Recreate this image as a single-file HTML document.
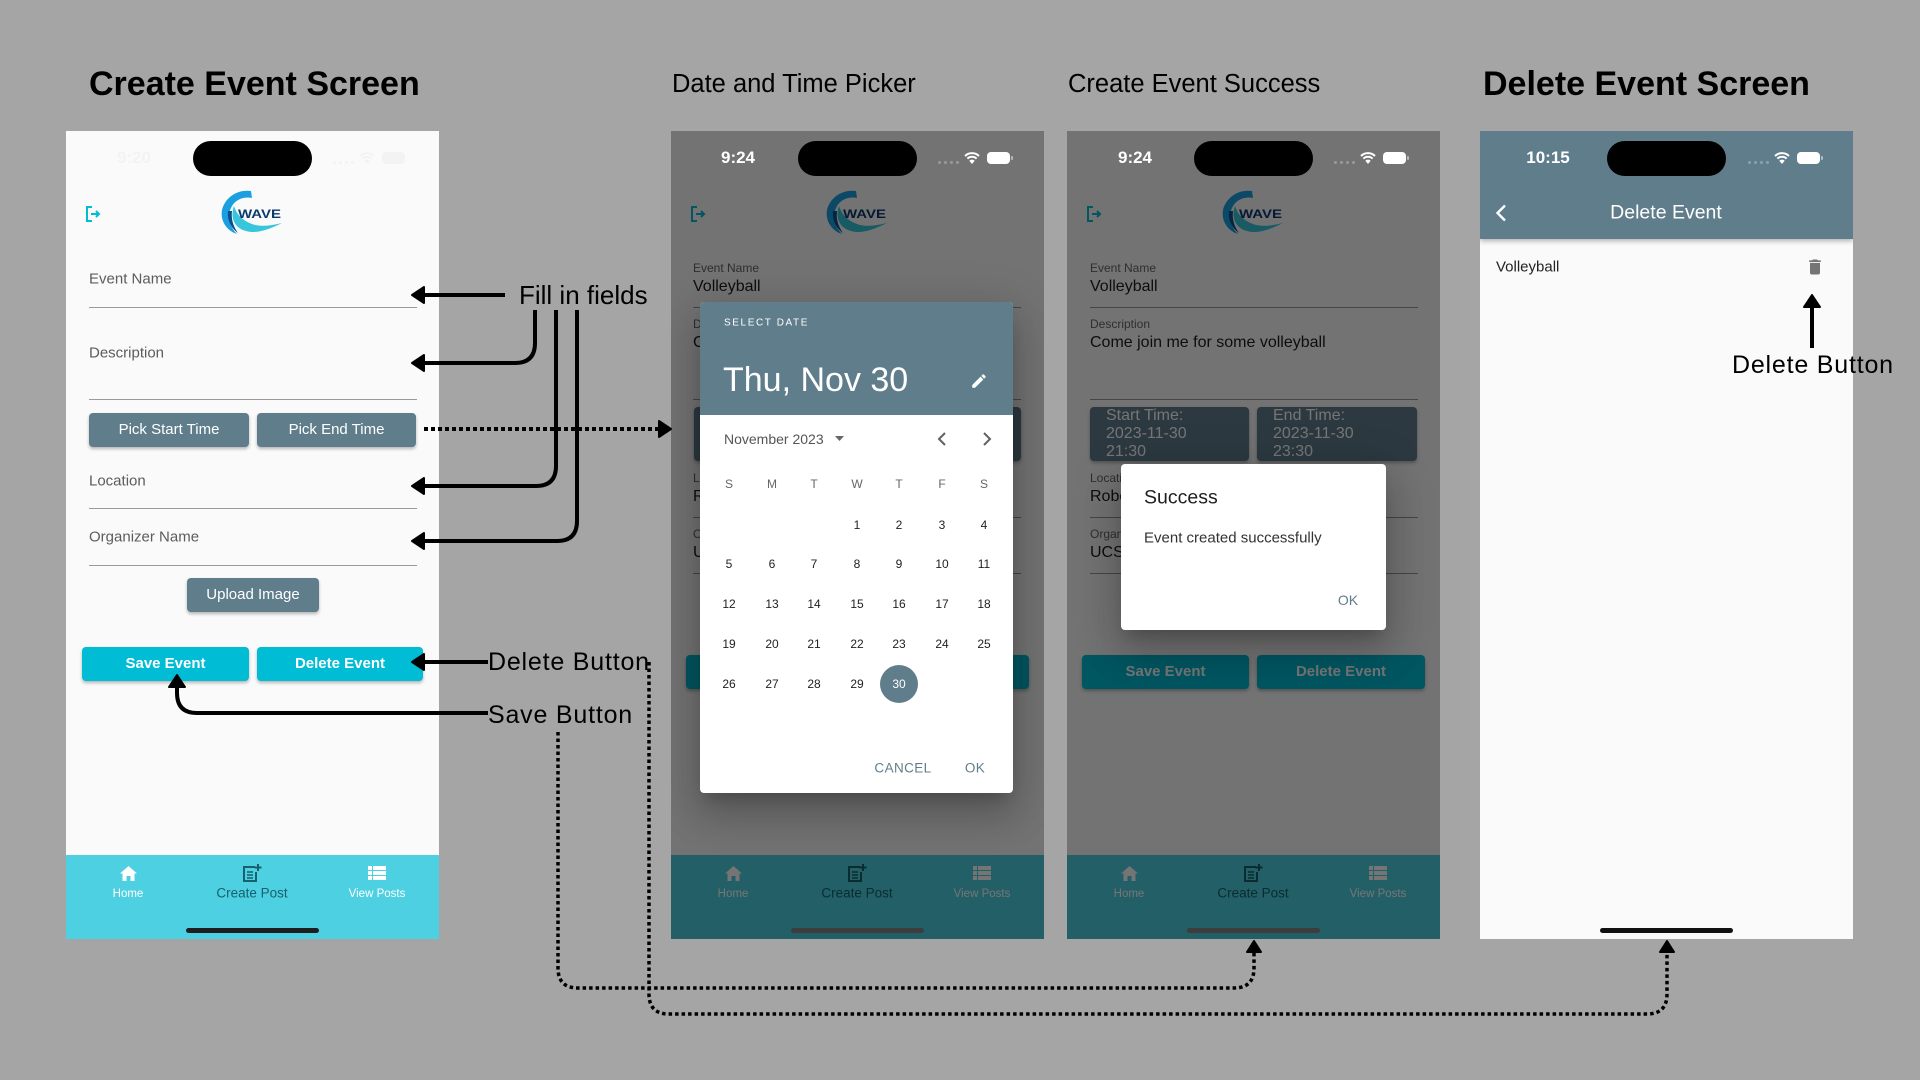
<!DOCTYPE html>
<html><head><meta charset="utf-8">
<style>
*{box-sizing:border-box}
body{margin:0;width:1920px;height:1080px;background:#a5a5a5;position:relative;overflow:hidden;font-family:"Liberation Sans",Arial,sans-serif}
.ph{position:absolute;top:131px;width:373px;height:808px;background:#fafafa;overflow:hidden}
.ab{position:absolute;white-space:nowrap}
.cy{transform:translateY(-50%)}
.cc{transform:translate(-50%,-50%)}
.isl{position:absolute;left:127px;top:10px;width:119px;height:35px;border-radius:18px;background:#000}
.ul{position:absolute;left:23px;width:328px;height:1px;background:#9a9a9a}
.lb{font-size:15px;color:#5c5c5c;left:23px}
.btn{position:absolute;height:34px;line-height:34px;text-align:center;color:#fff;font-size:15px;border-radius:4px;box-shadow:0 2px 3px rgba(0,0,0,.28);white-space:nowrap}
.g{background:#607d8b}
.cb{background:#00bcd4;font-weight:bold}
.nav{position:absolute;left:0;top:724px;width:373px;height:84px;background:#4dd0e1}
.nl{font-size:11.5px;color:#fff}
.ind{position:absolute;left:120px;top:797px;width:133px;height:5px;border-radius:3px;background:#1e1e1e}
.sl{font-size:12px;color:#666;left:22px}
.vl{font-size:16px;color:#1e1e1e;left:22px}
.tb{position:absolute;top:276px;height:54px;background:#607d8b;border-radius:4px;color:#fff;font-size:16px;line-height:18px;padding-left:16px;overflow:hidden;box-shadow:0 2px 3px rgba(0,0,0,.28);white-space:nowrap}
.ov{position:absolute;left:0;top:0;width:373px;height:808px;background:rgba(0,0,0,.54)}
.st{font-size:17px;font-weight:bold;color:#fff}
.d{position:absolute;width:36px;height:20px;margin-left:-18px;margin-top:-10px;line-height:20px;text-align:center;font-size:12px;color:#222}
.wd{color:#666}
.dot{position:absolute;top:30px;width:3px;height:3px;border-radius:2px;background:#9a9a9a}
.bat{position:absolute;left:316px;top:21px;width:23px;height:12px;border-radius:4px;background:#fff}
.nub{position:absolute;left:340px;top:25px;width:2px;height:4px;border-radius:1px;background:rgba(255,255,255,.5)}
.dlg{position:absolute;background:#fff;border-radius:4px;overflow:hidden;box-shadow:0 11px 15px -7px rgba(0,0,0,.2),0 24px 38px 3px rgba(0,0,0,.14),0 9px 46px 8px rgba(0,0,0,.12)}
</style></head>
<body>

<!-- ============ PHONE 1 ============ -->
<div class="ph" style="left:66px">
  <div class="isl"></div>
  <div class="ab cc st" style="left:68px;top:27px;color:#f3f3f3">9:20</div>
  <div class="dot" style="left:267px;background:#f3f3f3"></div><div class="dot" style="left:273px;background:#f3f3f3"></div><div class="dot" style="left:279px;background:#f3f3f3"></div><div class="dot" style="left:285px;background:#f3f3f3"></div>
  <svg class="ab" style="left:293px;top:21px" width="16" height="12" viewBox="0 0 16 12"><path d="M8 12L5.3 8.8A3.8 3.8 0 0 1 10.7 8.8Z" fill="#f3f3f3"/><path d="M3.4 6.6A6.6 6.6 0 0 1 12.6 6.6" stroke="#f3f3f3" stroke-width="2" fill="none"/><path d="M1 4A10 10 0 0 1 15 4" stroke="#f3f3f3" stroke-width="2" fill="none"/></svg>
  <div class="bat" style="background:#f3f3f3"></div>

  <svg class="ab" style="left:18px;top:74px" width="18" height="18" viewBox="0 0 18 18"><path d="M8 2H3v14h5" fill="none" stroke="#00bcd4" stroke-width="2"/><path d="M7 9h8M12 6l3 3-3 3" fill="none" stroke="#00bcd4" stroke-width="2"/></svg>
  <svg class="ab" style="left:154px;top:59px" width="62" height="44" viewBox="0 0 62 44">
    <path d="M31 1C18 -1 5 7 2 20C0 31 7 41 17 44C9 36 7 26 11 18C14 11 22 6 32 8Z" fill="#1a9fe0"/>
    <path d="M14 16C10 27 14 38 26 41C36 44 48 40 62 33C50 36 40 37 32 34C22 30 17 25 14 16Z" fill="#38c6dc"/>
    <path d="M8 21C7 30 11 38 18 43C13 36 11 29 12 21Z" fill="#0b4f8a"/>
    <text x="18" y="28" font-family="Liberation Sans, sans-serif" font-weight="bold" font-size="12" fill="#0d3a6e" textLength="43" lengthAdjust="spacingAndGlyphs">WAVE</text>
  </svg>

  <div class="ab cy lb" style="top:148px">Event Name</div>
  <div class="ul" style="top:176px"></div>
  <div class="ab cy lb" style="top:222px">Description</div>
  <div class="ul" style="top:268px"></div>
  <div class="btn g" style="left:23px;top:282px;width:160px">Pick Start Time</div>
  <div class="btn g" style="left:191px;top:282px;width:159px">Pick End Time</div>
  <div class="ab cy lb" style="top:350px">Location</div>
  <div class="ul" style="top:377px"></div>
  <div class="ab cy lb" style="top:406px">Organizer Name</div>
  <div class="ul" style="top:434px"></div>
  <div class="btn g" style="left:121px;top:447px;width:132px">Upload Image</div>
  <div class="btn cb" style="left:16px;top:516px;width:167px">Save Event</div>
  <div class="btn cb" style="left:191px;top:516px;width:166px">Delete Event</div>

  <div class="nav"></div>
  <svg class="ab" style="left:54px;top:735px" width="17" height="15" viewBox="0 0 17 15"><path d="M8.5 0L17 7.5H14.5V15H10.5V10H6.5V15H2.5V7.5H0Z" fill="#fff"/></svg>
  <svg class="ab" style="left:176px;top:733px" width="20" height="18" viewBox="0 0 20 18"><path d="M13 3H2v14h12V8" fill="none" stroke="#17616c" stroke-width="2"/><path d="M5 8h6M5 11h6M5 14h6" stroke="#17616c" stroke-width="1.6"/><path d="M16 0v7M12.5 3.5h7" stroke="#17616c" stroke-width="2"/></svg>
  <svg class="ab" style="left:302px;top:735px" width="18" height="14" viewBox="0 0 18 14"><g fill="#fff"><rect x="0" y="0" width="4" height="4"/><rect x="5" y="0" width="13" height="4"/><rect x="0" y="5" width="4" height="4"/><rect x="5" y="5" width="13" height="4"/><rect x="0" y="10" width="4" height="4"/><rect x="5" y="10" width="13" height="4"/></g></svg>
  <div class="ab cc nl" style="left:62px;top:763px">Home</div>
  <div class="ab cc" style="left:186px;top:762px;font-size:13.5px;color:#17616c">Create Post</div>
  <div class="ab cc nl" style="left:311px;top:763px">View Posts</div>
  <div class="ind"></div>
</div>

<!-- ============ PHONE 2 ============ -->
<div class="ph" style="left:671px">
  <svg class="ab" style="left:18px;top:74px" width="18" height="18" viewBox="0 0 18 18"><path d="M8 2H3v14h5" fill="none" stroke="#00bcd4" stroke-width="2"/><path d="M7 9h8M12 6l3 3-3 3" fill="none" stroke="#00bcd4" stroke-width="2"/></svg>
  <svg class="ab" style="left:154px;top:59px" width="62" height="44" viewBox="0 0 62 44">
    <path d="M31 1C18 -1 5 7 2 20C0 31 7 41 17 44C9 36 7 26 11 18C14 11 22 6 32 8Z" fill="#1a9fe0"/>
    <path d="M14 16C10 27 14 38 26 41C36 44 48 40 62 33C50 36 40 37 32 34C22 30 17 25 14 16Z" fill="#38c6dc"/>
    <path d="M8 21C7 30 11 38 18 43C13 36 11 29 12 21Z" fill="#0b4f8a"/>
    <text x="18" y="28" font-family="Liberation Sans, sans-serif" font-weight="bold" font-size="12" fill="#0d3a6e" textLength="43" lengthAdjust="spacingAndGlyphs">WAVE</text>
  </svg>
  <div class="ab cy sl" style="top:137px">Event Name</div>
  <div class="ab cy vl" style="top:156px">Volleyball</div>
  <div class="ul" style="left:22px;top:176px"></div>
  <div class="ab cy sl" style="top:193px">Description</div>
  <div class="ab cy vl" style="top:212px">Come join me for some volleyball</div>
  <div class="ul" style="left:22px;top:268px"></div>
  <div class="tb" style="left:23px;width:159px">Start Time:<br>2023-11-30<br>21:30</div>
  <div class="tb" style="left:190px;width:160px">End Time:<br>2023-11-30<br>23:30</div>
  <div class="ab cy sl" style="top:347px">Location</div>
  <div class="ab cy vl" style="top:366px">Robertson Gym</div>
  <div class="ul" style="left:22px;top:386px"></div>
  <div class="ab cy sl" style="top:403px">Organizer Name</div>
  <div class="ab cy vl" style="top:422px">UCSC</div>
  <div class="ul" style="left:22px;top:442px"></div>
  <div class="btn cb" style="left:15px;top:524px;width:167px">Save Event</div>
  <div class="btn cb" style="left:190px;top:524px;width:168px">Delete Event</div>
  <div class="nav"></div>
  <svg class="ab" style="left:54px;top:735px" width="17" height="15" viewBox="0 0 17 15"><path d="M8.5 0L17 7.5H14.5V15H10.5V10H6.5V15H2.5V7.5H0Z" fill="#fff"/></svg>
  <svg class="ab" style="left:176px;top:733px" width="20" height="18" viewBox="0 0 20 18"><path d="M13 3H2v14h12V8" fill="none" stroke="#17616c" stroke-width="2"/><path d="M5 8h6M5 11h6M5 14h6" stroke="#17616c" stroke-width="1.6"/><path d="M16 0v7M12.5 3.5h7" stroke="#17616c" stroke-width="2"/></svg>
  <svg class="ab" style="left:302px;top:735px" width="18" height="14" viewBox="0 0 18 14"><g fill="#fff"><rect x="0" y="0" width="4" height="4"/><rect x="5" y="0" width="13" height="4"/><rect x="0" y="5" width="4" height="4"/><rect x="5" y="5" width="13" height="4"/><rect x="0" y="10" width="4" height="4"/><rect x="5" y="10" width="13" height="4"/></g></svg>
  <div class="ab cc nl" style="left:62px;top:763px">Home</div>
  <div class="ab cc" style="left:186px;top:762px;font-size:13.5px;color:#17616c">Create Post</div>
  <div class="ab cc nl" style="left:311px;top:763px">View Posts</div>

  <div class="ov"></div>
  <div class="isl"></div>
  <div class="ab cc st" style="left:67px;top:27px">9:24</div>
  <div class="dot" style="left:267px"></div><div class="dot" style="left:273px"></div><div class="dot" style="left:279px"></div><div class="dot" style="left:285px"></div>
  <svg class="ab" style="left:293px;top:21px" width="16" height="12" viewBox="0 0 16 12"><path d="M8 12L5.3 8.8A3.8 3.8 0 0 1 10.7 8.8Z" fill="#fff"/><path d="M3.4 6.6A6.6 6.6 0 0 1 12.6 6.6" stroke="#fff" stroke-width="2" fill="none"/><path d="M1 4A10 10 0 0 1 15 4" stroke="#fff" stroke-width="2" fill="none"/></svg>
  <div class="bat"></div><div class="nub"></div>
  <div class="ind" style="background:#3d3d3d"></div>

  <!-- date picker dialog -->
  <div class="dlg" style="left:29px;top:171px;width:313px;height:491px">
    <div class="ab" style="left:0;top:0;width:313px;height:113px;background:#607d8b"></div>
    <div class="ab cy" style="left:24px;top:21px;font-size:10px;letter-spacing:1.6px;color:#fff">SELECT DATE</div>
    <div class="ab" style="left:23px;top:59px;font-size:34px;line-height:38px;color:#fff">Thu, Nov 30</div>
    <svg class="ab" style="left:270px;top:70px" width="18" height="18" viewBox="0 0 24 24"><path d="M3 17.25V21h3.75L17.81 9.94l-3.75-3.75L3 17.25zM20.71 7.04a1 1 0 000-1.41l-2.34-2.34a1 1 0 00-1.41 0l-1.83 1.83 3.75 3.75 1.83-1.83z" fill="#fff"/></svg>
    <div class="ab cy" style="left:24px;top:137px;font-size:14px;color:#555">November 2023</div>
    <svg class="ab" style="left:135px;top:134px" width="9" height="6" viewBox="0 0 9 6"><path d="M0 0H9L4.5 5Z" fill="#666"/></svg>
    <svg class="ab" style="left:237px;top:130px" width="10" height="14" viewBox="0 0 10 14"><path d="M8 1L2 7l6 6" fill="none" stroke="#616161" stroke-width="2"/></svg>
    <svg class="ab" style="left:282px;top:130px" width="10" height="14" viewBox="0 0 10 14"><path d="M2 1l6 6-6 6" fill="none" stroke="#616161" stroke-width="2"/></svg>

    <span class="d wd" style="left:29px;top:182px">S</span><span class="d wd" style="left:72px;top:182px">M</span><span class="d wd" style="left:114px;top:182px">T</span><span class="d wd" style="left:157px;top:182px">W</span><span class="d wd" style="left:199px;top:182px">T</span><span class="d wd" style="left:242px;top:182px">F</span><span class="d wd" style="left:284px;top:182px">S</span>

    <span class="d" style="left:157px;top:223px">1</span><span class="d" style="left:199px;top:223px">2</span><span class="d" style="left:242px;top:223px">3</span><span class="d" style="left:284px;top:223px">4</span>

    <span class="d" style="left:29px;top:262px">5</span><span class="d" style="left:72px;top:262px">6</span><span class="d" style="left:114px;top:262px">7</span><span class="d" style="left:157px;top:262px">8</span><span class="d" style="left:199px;top:262px">9</span><span class="d" style="left:242px;top:262px">10</span><span class="d" style="left:284px;top:262px">11</span>

    <span class="d" style="left:29px;top:302px">12</span><span class="d" style="left:72px;top:302px">13</span><span class="d" style="left:114px;top:302px">14</span><span class="d" style="left:157px;top:302px">15</span><span class="d" style="left:199px;top:302px">16</span><span class="d" style="left:242px;top:302px">17</span><span class="d" style="left:284px;top:302px">18</span>

    <span class="d" style="left:29px;top:342px">19</span><span class="d" style="left:72px;top:342px">20</span><span class="d" style="left:114px;top:342px">21</span><span class="d" style="left:157px;top:342px">22</span><span class="d" style="left:199px;top:342px">23</span><span class="d" style="left:242px;top:342px">24</span><span class="d" style="left:284px;top:342px">25</span>

    <div class="ab" style="left:180px;top:363px;width:38px;height:38px;border-radius:19px;background:#607d8b"></div>
    <span class="d" style="left:29px;top:382px">26</span><span class="d" style="left:72px;top:382px">27</span><span class="d" style="left:114px;top:382px">28</span><span class="d" style="left:157px;top:382px">29</span><span class="d" style="left:199px;top:382px;color:#fff">30</span>

    <div class="ab cc" style="left:203px;top:466px;font-size:13.5px;color:#607d8b;letter-spacing:.4px">CANCEL</div>
    <div class="ab cc" style="left:275px;top:466px;font-size:13.5px;color:#607d8b;letter-spacing:.4px">OK</div>
  </div>
</div>

<!-- ============ PHONE 3 ============ -->
<div class="ph" style="left:1067px">
  <svg class="ab" style="left:18px;top:74px" width="18" height="18" viewBox="0 0 18 18"><path d="M8 2H3v14h5" fill="none" stroke="#00bcd4" stroke-width="2"/><path d="M7 9h8M12 6l3 3-3 3" fill="none" stroke="#00bcd4" stroke-width="2"/></svg>
  <svg class="ab" style="left:154px;top:59px" width="62" height="44" viewBox="0 0 62 44">
    <path d="M31 1C18 -1 5 7 2 20C0 31 7 41 17 44C9 36 7 26 11 18C14 11 22 6 32 8Z" fill="#1a9fe0"/>
    <path d="M14 16C10 27 14 38 26 41C36 44 48 40 62 33C50 36 40 37 32 34C22 30 17 25 14 16Z" fill="#38c6dc"/>
    <path d="M8 21C7 30 11 38 18 43C13 36 11 29 12 21Z" fill="#0b4f8a"/>
    <text x="18" y="28" font-family="Liberation Sans, sans-serif" font-weight="bold" font-size="12" fill="#0d3a6e" textLength="43" lengthAdjust="spacingAndGlyphs">WAVE</text>
  </svg>
  <div class="ab cy sl" style="left:23px;top:137px">Event Name</div>
  <div class="ab cy vl" style="left:23px;top:156px">Volleyball</div>
  <div class="ul" style="top:176px"></div>
  <div class="ab cy sl" style="left:23px;top:193px">Description</div>
  <div class="ab cy vl" style="left:23px;top:212px">Come join me for some volleyball</div>
  <div class="ul" style="top:268px"></div>
  <div class="tb" style="left:23px;width:159px">Start Time:<br>2023-11-30<br>21:30</div>
  <div class="tb" style="left:190px;width:160px">End Time:<br>2023-11-30<br>23:30</div>
  <div class="ab cy sl" style="left:23px;top:347px">Location</div>
  <div class="ab cy vl" style="left:23px;top:366px">Robertson Gym</div>
  <div class="ul" style="top:386px"></div>
  <div class="ab cy sl" style="left:23px;top:403px">Organizer Name</div>
  <div class="ab cy vl" style="left:23px;top:422px">UCSC</div>
  <div class="ul" style="top:442px"></div>
  <div class="btn cb" style="left:15px;top:524px;width:167px">Save Event</div>
  <div class="btn cb" style="left:190px;top:524px;width:168px">Delete Event</div>
  <div class="nav"></div>
  <svg class="ab" style="left:54px;top:735px" width="17" height="15" viewBox="0 0 17 15"><path d="M8.5 0L17 7.5H14.5V15H10.5V10H6.5V15H2.5V7.5H0Z" fill="#fff"/></svg>
  <svg class="ab" style="left:176px;top:733px" width="20" height="18" viewBox="0 0 20 18"><path d="M13 3H2v14h12V8" fill="none" stroke="#17616c" stroke-width="2"/><path d="M5 8h6M5 11h6M5 14h6" stroke="#17616c" stroke-width="1.6"/><path d="M16 0v7M12.5 3.5h7" stroke="#17616c" stroke-width="2"/></svg>
  <svg class="ab" style="left:302px;top:735px" width="18" height="14" viewBox="0 0 18 14"><g fill="#fff"><rect x="0" y="0" width="4" height="4"/><rect x="5" y="0" width="13" height="4"/><rect x="0" y="5" width="4" height="4"/><rect x="5" y="5" width="13" height="4"/><rect x="0" y="10" width="4" height="4"/><rect x="5" y="10" width="13" height="4"/></g></svg>
  <div class="ab cc nl" style="left:62px;top:763px">Home</div>
  <div class="ab cc" style="left:186px;top:762px;font-size:13.5px;color:#17616c">Create Post</div>
  <div class="ab cc nl" style="left:311px;top:763px">View Posts</div>

  <div class="ov"></div>
  <div class="isl"></div>
  <div class="ab cc st" style="left:68px;top:27px">9:24</div>
  <div class="dot" style="left:267px"></div><div class="dot" style="left:273px"></div><div class="dot" style="left:279px"></div><div class="dot" style="left:285px"></div>
  <svg class="ab" style="left:293px;top:21px" width="16" height="12" viewBox="0 0 16 12"><path d="M8 12L5.3 8.8A3.8 3.8 0 0 1 10.7 8.8Z" fill="#fff"/><path d="M3.4 6.6A6.6 6.6 0 0 1 12.6 6.6" stroke="#fff" stroke-width="2" fill="none"/><path d="M1 4A10 10 0 0 1 15 4" stroke="#fff" stroke-width="2" fill="none"/></svg>
  <div class="bat"></div><div class="nub"></div>
  <div class="ind" style="background:#3d3d3d"></div>

  <div class="dlg" style="left:54px;top:333px;width:265px;height:166px">
    <div class="ab cy" style="left:23px;top:34px;font-size:19.5px;color:#1e1e1e">Success</div>
    <div class="ab cy" style="left:23px;top:74px;font-size:15px;color:#333">Event created successfully</div>
    <div class="ab cc" style="left:227px;top:136px;font-size:14px;color:#607d8b">OK</div>
  </div>
</div>

<!-- ============ PHONE 4 ============ -->
<div class="ph" style="left:1480px">
  <div class="ab" style="left:0;top:0;width:373px;height:108px;background:#607d8b;box-shadow:0 2px 5px rgba(0,0,0,.3)"></div>
  <div class="isl"></div>
  <div class="ab cc st" style="left:68px;top:27px">10:15</div>
  <div class="dot" style="left:268px;background:#8ea2ac"></div><div class="dot" style="left:274px;background:#8ea2ac"></div><div class="dot" style="left:280px;background:#8ea2ac"></div><div class="dot" style="left:286px;background:#8ea2ac"></div>
  <svg class="ab" style="left:294px;top:21px" width="16" height="12" viewBox="0 0 16 12"><path d="M8 12L5.3 8.8A3.8 3.8 0 0 1 10.7 8.8Z" fill="#fff"/><path d="M3.4 6.6A6.6 6.6 0 0 1 12.6 6.6" stroke="#fff" stroke-width="2" fill="none"/><path d="M1 4A10 10 0 0 1 15 4" stroke="#fff" stroke-width="2" fill="none"/></svg>
  <div class="bat" style="left:317px"></div><div class="nub" style="left:341px"></div>
  <svg class="ab" style="left:15px;top:73px" width="12" height="18" viewBox="0 0 12 18"><path d="M10 1.5L2.5 9l7.5 7.5" fill="none" stroke="#fff" stroke-width="2.4"/></svg>
  <div class="ab cc" style="left:186px;top:82px;font-size:19.5px;color:#fff">Delete Event</div>
  <div class="ab cy" style="left:16px;top:136px;font-size:15px;color:#222">Volleyball</div>
  <svg class="ab" style="left:325px;top:126px" width="20" height="20" viewBox="0 0 24 24"><path d="M6 19c0 1.1.9 2 2 2h8c1.1 0 2-.9 2-2V7H6v12zM19 4h-3.5l-1-1h-5l-1 1H5v2h14V4z" fill="#757575"/></svg>
  <div class="ind" style="background:#111"></div>
</div>

<!-- ============ ANNOTATIONS ============ -->
<svg style="position:absolute;left:0;top:0;z-index:10" width="1920" height="1080" viewBox="0 0 1920 1080">
  <g font-family="Liberation Sans, Arial, sans-serif" fill="#000">
    <text x="89" y="95" font-size="34" font-weight="bold">Create Event Screen</text>
    <text x="672" y="92" font-size="25.5">Date and Time Picker</text>
    <text x="1068" y="92" font-size="25.5">Create Event Success</text>
    <text x="1483" y="95" font-size="34" font-weight="bold">Delete Event Screen</text>
    <text x="519" y="304" font-size="26">Fill in fields</text>
    <text x="488" y="670" font-size="25" letter-spacing="0.8">Delete Button</text>
    <text x="488" y="723" font-size="25" letter-spacing="0.8">Save Button</text>
    <text x="1732" y="373" font-size="25" letter-spacing="0.8">Delete Button</text>
  </g>
  <g fill="none" stroke="#000" stroke-width="4">
    <path d="M505 295H420"/>
    <path d="M535 310V343Q535 363 515 363H420"/>
    <path d="M556 310V466Q556 486 536 486H420"/>
    <path d="M577 310V521Q577 541 557 541H420"/>
    <path d="M488 662H420"/>
    <path d="M488 713H197Q177 713 177 693V684"/>
    <path d="M1812 348V304"/>
  </g>
  <g fill="#000" stroke="#000" stroke-width="2" stroke-linejoin="round">
    <polygon points="412,295 424,287 424,303"/>
    <polygon points="412,363 424,355 424,371"/>
    <polygon points="412,486 424,478 424,494"/>
    <polygon points="412,541 424,533 424,549"/>
    <polygon points="412,662 424,654 424,670"/>
    <polygon points="177,675 169,687 185,687"/>
    <polygon points="1812,295 1804,307 1820,307"/>
    <polygon points="671,429 659,421 659,437"/>
    <polygon points="1254,941 1247,952 1261,952"/>
    <polygon points="1667,941 1660,952 1674,952"/>
  </g>
  <g fill="none" stroke="#000" stroke-width="4" stroke-dasharray="4 3">
    <path d="M424 429H660"/>
  </g>
  <g fill="none" stroke="#000" stroke-width="3.5" stroke-dasharray="3.5 3">
    <path d="M558 732V968Q558 988 578 988H1234Q1254 988 1254 968V952"/>
    <path d="M649 662V994Q649 1014 669 1014H1647Q1667 1014 1667 994V952"/>
  </g>
</svg>

</body></html>
